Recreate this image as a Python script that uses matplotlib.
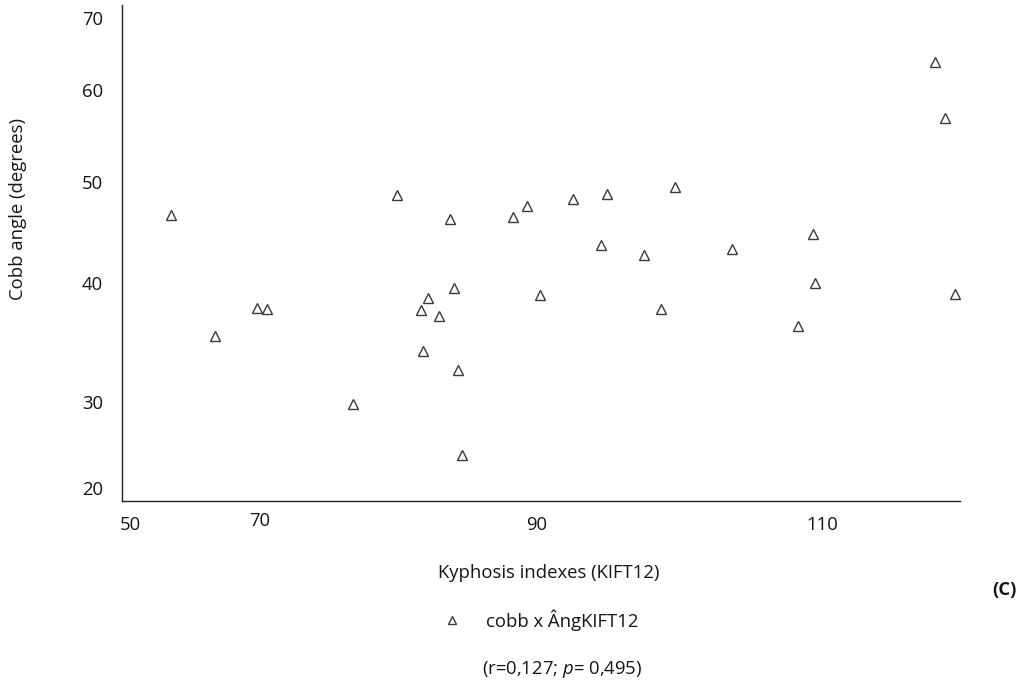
import numpy as np
import matplotlib

matplotlib.use("Agg")

import matplotlib.pyplot as plt
from matplotlib.transforms import ScaledTranslation

plt.rcParams["font.family"] = ["Open Sans", "DejaVu Sans"]
plt.rcParams["mathtext.fontset"] = "custom"
plt.rcParams["mathtext.rm"] = "Open Sans"
plt.rcParams["mathtext.it"] = "Open Sans:italic"

# 数据：KIFT12 指数 vs Cobb 角
kift12 = [56.2, 63.0, 69.5, 70.5, 76.7, 79.9, 81.6, 82.1, 81.8, 82.9,
          83.7, 84.0, 84.3, 84.6, 88.3, 89.3, 90.2, 92.5, 94.5, 94.9,
          97.5, 98.7, 99.7, 103.7, 108.3, 109.4, 109.5, 117.9, 118.6, 119.35]
cobb = [46.7, 35.5, 37.9, 37.8, 29.7, 48.7, 37.7, 38.7, 34.3, 37.2,
        46.3, 39.6, 32.7, 23.8, 46.5, 47.6, 39.0, 48.3, 43.8, 48.8,
        42.8, 37.8, 49.5, 43.4, 36.4, 44.9, 40.0, 63.9, 57.0, 39.05]

x_ticks = [50, 70, 90, 110]
y_ticks = [20, 30, 40, 50, 60, 70]

# 原图刻度不是等距的：刻度标签所在的像素位置（布局用）
X_TICK_PX = [130.5, 260.0, 537.0, 822.0]
Y_TICK_PX = [488.3, 401.7, 283.0, 182.0, 90.3, 18.3]

W, H = 1025, 685
AX_L, AX_R, AX_T, AX_B = 122.3, 960.0, 5.0, 500.5
FS = 13.3
INK = "#161616"


def _piecewise(src, dst):
    """分段线性映射，两端按首尾段外推。"""
    src = np.asarray(src, float)
    dst = np.asarray(dst, float)
    k0 = (dst[1] - dst[0]) / (src[1] - src[0])
    k1 = (dst[-1] - dst[-2]) / (src[-1] - src[-2])

    def f(v):
        v = np.asarray(v, float)
        out = np.interp(v, src, dst)
        out = np.where(v < src[0], dst[0] + (v - src[0]) * k0, out)
        out = np.where(v > src[-1], dst[-1] + (v - src[-1]) * k1, out)
        return out

    return f


x_fwd = _piecewise(x_ticks, X_TICK_PX)
x_inv = _piecewise(X_TICK_PX, x_ticks)
y_px_neg = [-p for p in Y_TICK_PX]
y_fwd = _piecewise(y_ticks, y_px_neg)
y_inv = _piecewise(y_px_neg, y_ticks)

fig = plt.figure(figsize=(W / 100, H / 100), dpi=100)
ax = fig.add_axes([AX_L / W, 1 - AX_B / H, (AX_R - AX_L) / W, (AX_B - AX_T) / H])

ax.set_xscale("function", functions=(x_fwd, x_inv))
ax.set_yscale("function", functions=(y_fwd, y_inv))

ax.plot(kift12, cobb, linestyle="none", marker="^", markersize=7.4,
        markerfacecolor="white", markeredgecolor="#3a3a3a", markeredgewidth=1.0,
        label="cobb x ÂngKIFT12")

ax.set_xlim(float(x_inv(AX_L)), float(x_inv(AX_R)))
ax.set_ylim(float(y_inv(-AX_B)), float(y_inv(-AX_T)))
ax.set_xticks(x_ticks)
ax.set_yticks(y_ticks)
ax.xaxis.set_minor_locator(matplotlib.ticker.NullLocator())
ax.yaxis.set_minor_locator(matplotlib.ticker.NullLocator())
ax.set_xticklabels([str(v) for v in x_ticks])
ax.set_yticklabels([str(v) for v in y_ticks])

ax.tick_params(axis="both", length=0, labelsize=FS, colors=INK)
ax.tick_params(axis="y", pad=14)
ax.tick_params(axis="x", pad=11.5)

for side in ("top", "right"):
    ax.spines[side].set_visible(False)
for side in ("left", "bottom"):
    ax.spines[side].set_color("#222222")
    ax.spines[side].set_linewidth(1.0)

# "70" 标签在原图里略高
lbl70 = ax.get_xticklabels()[1]
lbl70.set_transform(lbl70.get_transform() + ScaledTranslation(0, 4 / 100, fig.dpi_scale_trans))

fig.text(18 / W, 1 - 209.5 / H, "Cobb angle (degrees)", rotation=90,
         ha="center", va="center", fontsize=FS, color=INK)
fig.text(549 / W, 1 - 573 / H, "Kyphosis indexes (KIFT12)",
         ha="center", va="center", fontsize=FS, color=INK)
fig.text(1004 / W, 1 - 590 / H, "(C)", ha="center", va="center",
         fontsize=FS, fontweight="bold", color=INK)
fig.text(562 / W, 1 - 669 / H, r"(r=0,127; $\mathit{p}$= 0,495)",
         ha="center", va="center", fontsize=FS, color=INK)

ax.legend(loc="center left", bbox_to_anchor=(442.5 / W, 1 - 620 / H),
          bbox_transform=fig.transFigure, frameon=False, numpoints=1,
          markerscale=0.78, handlelength=1.0, handletextpad=1.35,
          borderpad=0, borderaxespad=0, fontsize=FS, labelcolor=INK)

fig.savefig("out.png", dpi=100)
